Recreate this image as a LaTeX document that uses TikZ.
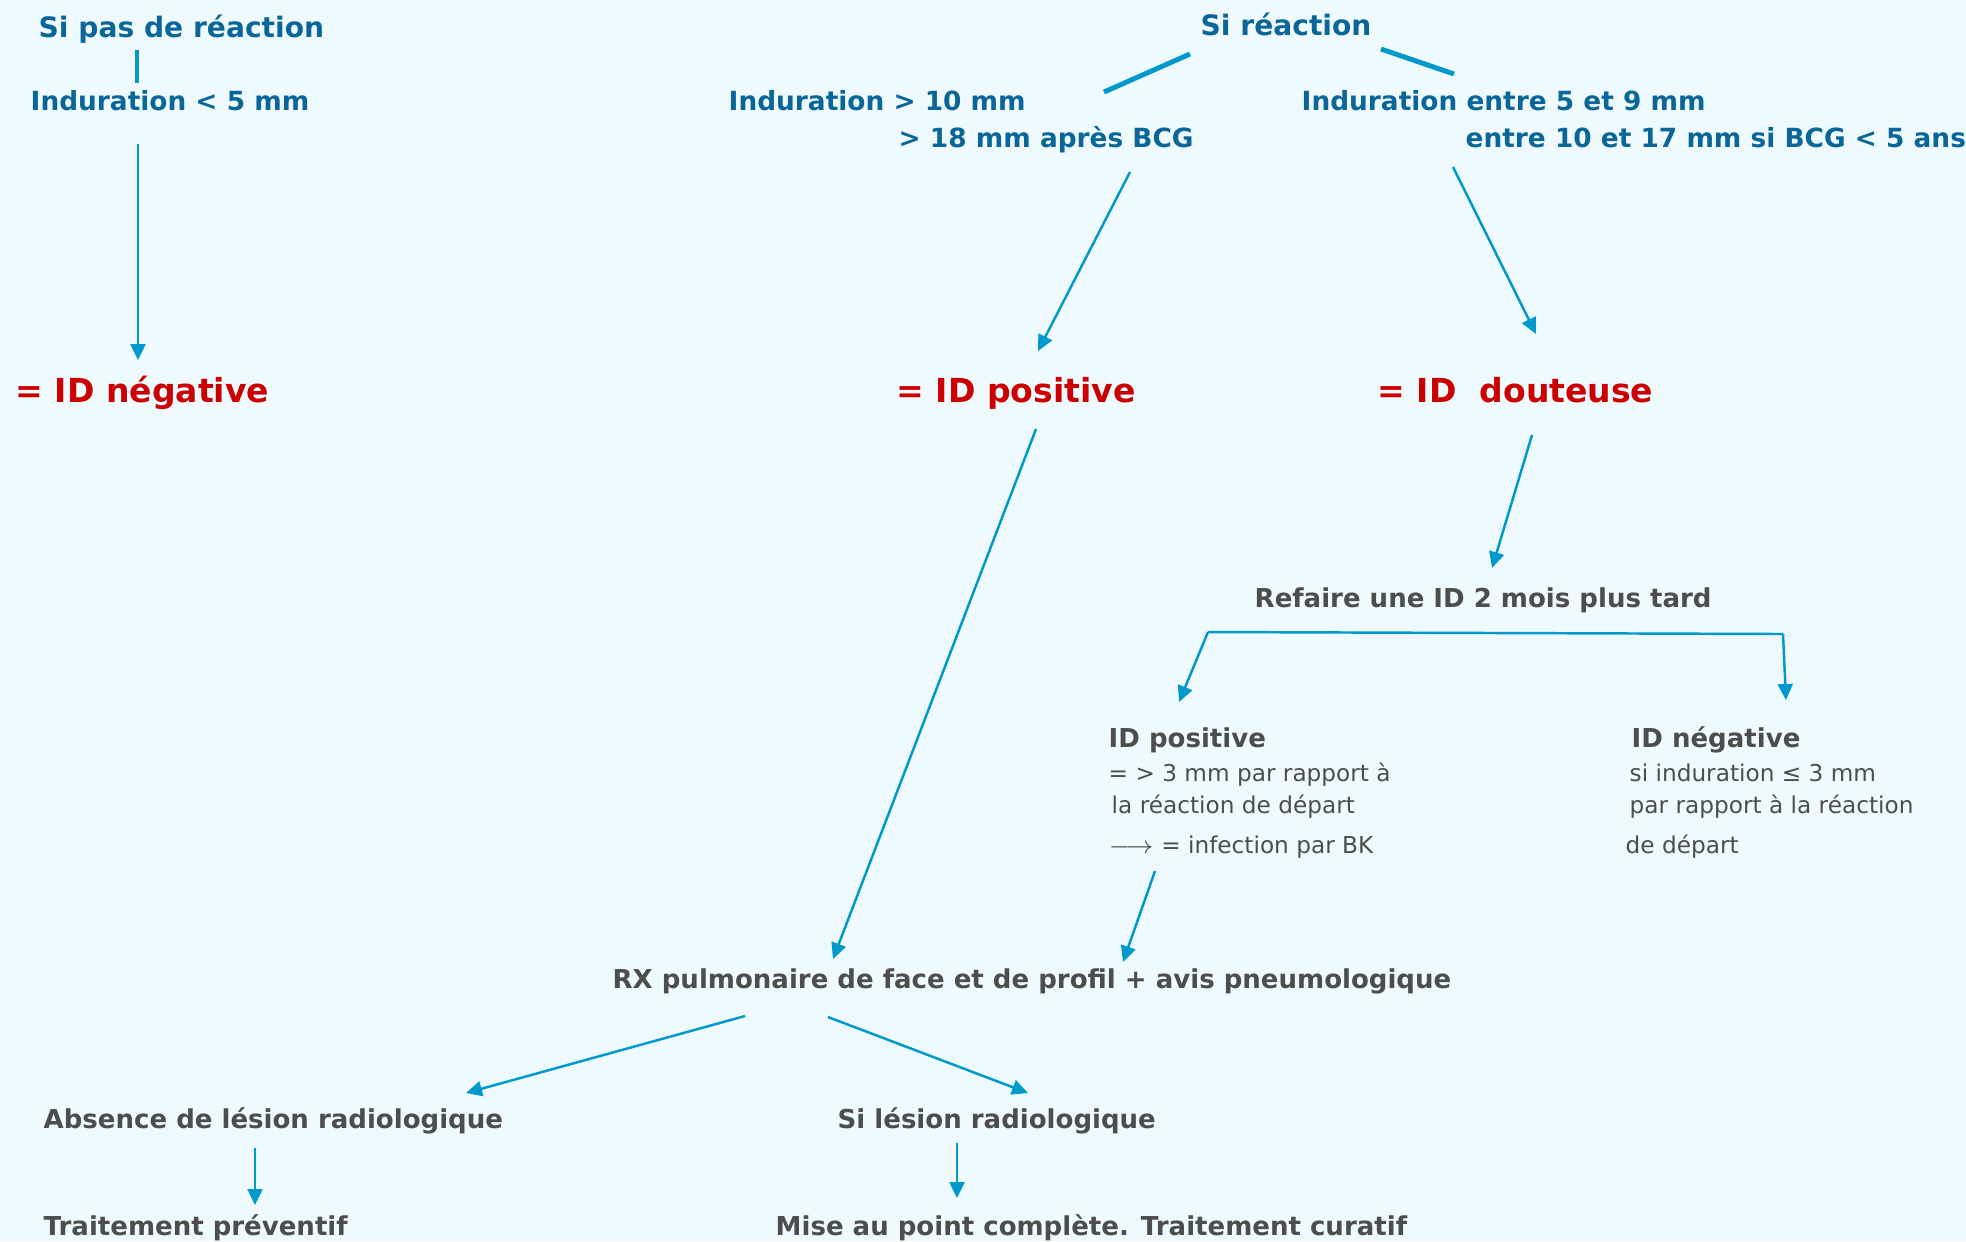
\documentclass[tikz,border=0pt]{standalone}
\usepackage{fontspec}
\setmainfont{DejaVu Sans}
\usetikzlibrary{arrows.meta}
\definecolor{fondbleu}{HTML}{EEFAFE}
\definecolor{titrebleu}{HTML}{0A6699}
\definecolor{flechebleu}{HTML}{0099CC}
\definecolor{rouge}{HTML}{CC0000}
\definecolor{gris}{HTML}{4D4D4D}
\tikzset{
	txt/.style={inner sep=0pt, anchor=base west},
	bleu/.style={txt, text=titrebleu, font=\fontsize{7.5pt}{9pt}\selectfont\bfseries},
	bleutitre/.style={txt, text=titrebleu, font=\fontsize{8pt}{9pt}\selectfont\bfseries},
	resultat/.style={txt, text=rouge, font=\fontsize{9.4pt}{11pt}\selectfont\bfseries},
	grisgras/.style={txt, text=gris, font=\fontsize{7.4pt}{9pt}\selectfont\bfseries},
	grisfin/.style={txt, text=gris, font=\fontsize{6.6pt}{8pt}\selectfont},
	fleche/.style={draw=flechebleu, line width=0.7pt, -{Triangle[length=1.6mm,width=1.5mm]}},
	trait/.style={draw=flechebleu, line width=1.4pt},
}

\begin{document}
\begin{tikzpicture}[x=0.01cm, y=-0.01cm]
			%%%%% START %%%%%
			
			\fill[fondbleu] (0, 0) rectangle (1966, 1241);
			\useasboundingbox (0, 0) rectangle (1966, 1241);
			
			% pas de reaction
			\node[bleutitre] (pasreac) at (38, 37) {Si pas de réaction};
			\node[bleu] (indneg) at (30, 110) {Induration < 5 mm};
			\node[resultat] (idneg) at (15, 402) {= ID négative};
			
			% reaction
			\node[bleutitre] (reac) at (1200, 35) {Si réaction};
			\node[bleu] (indpos) at (728, 110) {Induration > 10 mm};
			\node[bleu] (indposb) at (898, 147) {> 18 mm après BCG};
			\node[bleu] (inddout) at (1301, 110) {Induration entre 5 et 9 mm};
			\node[bleu] (inddoutb) at (1465, 147) {entre 10 et 17 mm si BCG < 5 ans};
			\node[resultat] (idpos) at (896, 402) {= ID positive};
			\node[resultat] (iddout) at (1377, 402) {= ID\ \ douteuse};
			
			% seconde ID
			\node[grisgras] (refaire) at (1254, 607) {Refaire une ID 2 mois plus tard};
			\node[grisgras] (secpos) at (1108, 747) {ID positive};
			\node[grisfin] (secposa) at (1108, 781) {= > 3 mm par rapport à};
			\node[grisfin] (secposb) at (1111, 813) {la réaction de départ};
			\node[grisfin] (secposc) at (1108, 853) {$\longrightarrow$ = infection par BK};
			\node[grisgras] (secneg) at (1631, 747) {ID négative};
			\node[grisfin] (secnega) at (1629, 781) {si induration ≤ 3 mm};
			\node[grisfin] (secnegb) at (1629, 813) {par rapport à la réaction};
			\node[grisfin] (secnegc) at (1625, 853) {de départ};
			
			% radio
			\node[grisgras] (rx) at (612, 988) {RX pulmonaire de face et de profil + avis pneumologique};
			\node[grisgras] (absence) at (43, 1128) {Absence de lésion radiologique};
			\node[grisgras] (lesion) at (837, 1128) {Si lésion radiologique};
			\node[grisgras] (preventif) at (43, 1235) {Traitement préventif};
			\node[grisgras] (curatif) at (775, 1235) {Mise au point complète. Traitement curatif};
			
			% bouts des fleches
			\coordinate (c1) at (137, 50);
			\coordinate (c2) at (137, 83);
			\coordinate (c3) at (1190, 54);
			\coordinate (c4) at (1104, 92);
			\coordinate (c5) at (1381, 49);
			\coordinate (c6) at (1454, 74);
			\coordinate (a1) at (138, 144);
			\coordinate (a2) at (138, 360);
			\coordinate (b1) at (1130, 172);
			\coordinate (b2) at (1038, 351);
			\coordinate (d1) at (1453, 167);
			\coordinate (d2) at (1536, 334);
			\coordinate (e1) at (1036, 429);
			\coordinate (e2) at (833, 959);
			\coordinate (f1) at (1532, 435);
			\coordinate (f2) at (1492, 568);
			\coordinate (g1) at (1208, 632);
			\coordinate (g2) at (1783, 634);
			\coordinate (g3) at (1179, 702);
			\coordinate (g4) at (1786, 700);
			\coordinate (h1) at (1155, 871);
			\coordinate (h2) at (1123, 962);
			\coordinate (k1) at (745, 1016);
			\coordinate (k2) at (466, 1093);
			\coordinate (k3) at (828, 1017);
			\coordinate (k4) at (1028, 1093);
			\coordinate (m1) at (255, 1148);
			\coordinate (m2) at (255, 1205);
			\coordinate (m3) at (957, 1143);
			\coordinate (m4) at (957, 1198);
			
			\draw[trait] (c1) -- (c2);
			\draw[trait] (c3) -- (c4);
			\draw[trait] (c5) -- (c6);
			
			\draw[fleche] (a1) -- (a2);
			\draw[fleche] (b1) -- (b2);
			\draw[fleche] (d1) -- (d2);
			\draw[fleche] (e1) -- (e2);
			\draw[fleche] (f1) -- (f2);
			\draw[draw=flechebleu, line width=0.7pt] (g1) -- (g2);
			\draw[fleche] (g1) -- (g3);
			\draw[fleche] (g2) -- (g4);
			\draw[fleche] (h1) -- (h2);
			\draw[fleche] (k1) -- (k2);
			\draw[fleche] (k3) -- (k4);
			\draw[fleche] (m1) -- (m2);
			\draw[fleche] (m3) -- (m4);
			
			%%%%% END %%%%%
\end{tikzpicture}
\end{document}
